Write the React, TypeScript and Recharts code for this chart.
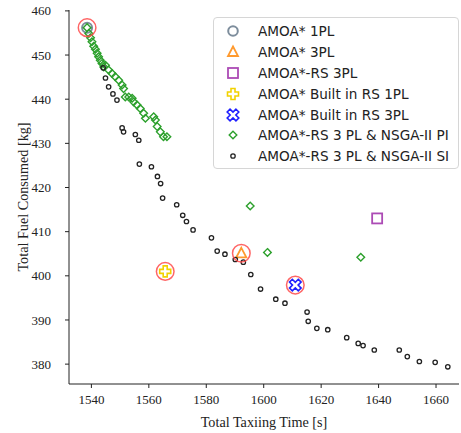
import React from "react";
import { ScatterChart, Scatter, XAxis, YAxis } from "recharts";

document.body.style.margin = "0";

// AMOA*-RS 3 PL & NSGA-II PI
const piTime = [
  1538.5, 1539.1, 1539.7, 1540.2, 1540.8, 1541.4, 1542.0, 1542.5, 1543.1, 1543.7, 1544.3,
  1544.9, 1546.0, 1547.2, 1548.3, 1549.5, 1550.7, 1551.2, 1551.8, 1553.0, 1554.2, 1554.7,
  1555.9, 1557.0, 1558.2, 1558.8, 1561.7, 1562.3, 1562.9, 1564.0, 1565.1, 1566.3,
  1595.3, 1601.3, 1633.8,
];
const piFuel = [
  456.2, 454.9, 453.9, 453.0, 452.0, 451.3, 450.4, 449.6, 448.8, 448.1, 447.3,
  447.7, 446.6, 445.8, 445.1, 444.3, 443.2, 442.4, 440.5, 440.5, 440.2, 439.4,
  438.7, 437.9, 436.8, 435.7, 436.0, 435.3, 433.8, 432.6, 431.5, 431.5,
  415.8, 405.3, 404.2,
];

// AMOA*-RS 3 PL & NSGA-II SI
const siTime = [
  1544.1, 1544.9, 1546.0, 1547.5, 1548.9, 1550.7, 1551.2, 1555.3, 1556.5, 1556.7,
  1560.9, 1563.0, 1564.1, 1564.8, 1569.7, 1571.8, 1573.1, 1575.4, 1581.8, 1583.8,
  1586.5, 1590.1, 1592.9, 1595.5, 1598.9, 1604.2, 1607.4, 1615.1, 1615.5, 1618.5,
  1622.3, 1628.9, 1632.9, 1634.6, 1638.5, 1647.2, 1650.0, 1654.2, 1659.7, 1664.1,
];
const siFuel = [
  447.1, 444.8, 442.8, 441.2, 439.8, 433.5, 432.6, 432.0, 430.7, 425.3,
  424.7, 422.5, 420.9, 417.6, 416.1, 413.7, 412.3, 410.4, 408.6, 405.6,
  404.9, 403.7, 403.1, 400.3, 397.0, 394.7, 393.8, 391.8, 389.7, 388.1,
  387.8, 386.0, 384.7, 384.2, 383.2, 383.2, 381.7, 380.6, 380.4, 379.4,
];

// single results
const amoa1pl = [{ x: 1538.5, y: 456.2 }];
const amoa3pl = [{ x: 1592.2, y: 405.1 }];
const amoaRs3pl = [{ x: 1639.5, y: 413.0 }];
const builtRs1pl = [{ x: 1565.7, y: 401.0 }];
const builtRs3pl = [{ x: 1611.0, y: 397.9 }];
const highlighted = [...amoa1pl, ...amoa3pl, ...builtRs1pl, ...builtRs3pl];

const xTicks = [1540, 1560, 1580, 1600, 1620, 1640, 1660];
const yTicks = [380, 390, 400, 410, 420, 430, 440, 450, 460];

const piData = piTime.map((x, i) => ({ x, y: piFuel[i] }));
const siData = siTime.map((x, i) => ({ x, y: siFuel[i] }));

const C = {
  grey: "#7d8d9c",
  orange: "#ff9a2e",
  purple: "#ac4bb5",
  yellow: "#f2d200",
  blue: "#1f1fff",
  green: "#2ca02c",
  black: "#222222",
  red: "#ff4a4a",
};

const plusPts = (cx: number, cy: number, s: number, t: number, rot = 0) => {
  const raw = [
    [-t, -s], [t, -s], [t, -t], [s, -t], [s, t], [t, t],
    [t, s], [-t, s], [-t, t], [-s, t], [-s, -t], [-t, -t],
  ];
  const c = Math.cos(rot);
  const sn = Math.sin(rot);
  return raw.map(([a, b]) => `${cx + a * c - b * sn},${cy + a * sn + b * c}`).join(" ");
};

const mark = (kind: string, cx: number, cy: number, small = false) => {
  switch (kind) {
    case "circle":
      return <circle cx={cx} cy={cy} r={small ? 4.8 : 5} fill="none" stroke={C.grey} strokeWidth={2} />;
    case "tri":
      return (
        <polygon
          points={`${cx},${cy - 5.5} ${cx + 5},${cy + 4} ${cx - 5},${cy + 4}`}
          fill="none" stroke={C.orange} strokeWidth={1.8}
        />
      );
    case "square":
      return <rect x={cx - 5} y={cy - 5} width={10} height={10} fill="none" stroke={C.purple} strokeWidth={1.8} />;
    case "plus":
      return <polygon points={plusPts(cx, cy, 5.5, 2)} fill="none" stroke={C.yellow} strokeWidth={1.6} />;
    case "x":
      return <polygon points={plusPts(cx, cy, 6.2, 2, Math.PI / 4)} fill="none" stroke={C.blue} strokeWidth={1.6} />;
    case "diamond":
      return (
        <path
          d={`M${cx},${cy - 3.8}L${cx + 3.8},${cy}L${cx},${cy + 3.8}L${cx - 3.8},${cy}Z`}
          fill="none" stroke={C.green} strokeWidth={1.4}
        />
      );
    case "dot":
      return <circle cx={cx} cy={cy} r={2.2} fill="none" stroke={C.black} strokeWidth={1.3} />;
    default:
      return (
        <circle cx={cx} cy={cy} r={8.8} fill="none" stroke={C.red} strokeOpacity={0.85} strokeWidth={1.5} />
      );
  }
};

const shapeOf = (kind: string) => (p: any) => mark(kind, p.cx, p.cy);

const legendItems = [
  { kind: "circle", label: "AMOA* 1PL" },
  { kind: "tri", label: "AMOA* 3PL" },
  { kind: "square", label: "AMOA*-RS 3PL" },
  { kind: "plus", label: "AMOA* Built in RS 1PL" },
  { kind: "x", label: "AMOA* Built in RS 3PL" },
  { kind: "diamond", label: "AMOA*-RS 3 PL & NSGA-II PI" },
  { kind: "dot", label: "AMOA*-RS 3 PL & NSGA-II SI" },
];

const serif = "'Liberation Serif', 'Times New Roman', serif";
const tickStyle = { fill: "#222", fontSize: 13, fontFamily: serif };
const labelStyle = { fill: "#222", fontSize: 14.2, fontFamily: serif };

export default function App() {
  return (
    <div style={{ position: "relative", width: 461, height: 433, background: "#fff" }}>
      <ScatterChart width={461} height={433} margin={{ top: 10, right: 2, left: 0, bottom: 0 }}>
        <XAxis
          dataKey="x"
          type="number"
          domain={[1532.2, 1668]}
          ticks={xTicks}
          allowDataOverflow
          height={49}
          tick={tickStyle}
          tickSize={4}
          tickMargin={7}
          stroke="#222"
          label={{
            value: "Total Taxiing Time [s]",
            position: "insideBottom",
            offset: 6,
            style: labelStyle,
          }}
        />
        <XAxis
          xAxisId="top"
          orientation="top"
          type="number"
          domain={[1532.2, 1668]}
          height={0}
          tick={false}
          tickLine={false}
          stroke="#222"
        />
        <YAxis
          dataKey="y"
          type="number"
          domain={[375.5, 460.2]}
          ticks={yTicks}
          allowDataOverflow
          width={69}
          tick={tickStyle}
          tickSize={4}
          tickMargin={14}
          stroke="#222"
          label={{
            value: "Total Fuel Consumed [kg]",
            angle: -90,
            position: "insideLeft",
            offset: 23,
            style: { ...labelStyle, textAnchor: "middle" },
          }}
        />
        <YAxis
          yAxisId="right"
          orientation="right"
          type="number"
          domain={[375.5, 460.2]}
          width={0}
          tick={false}
          tickLine={false}
          stroke="#222"
        />
        <Scatter data={amoa1pl} shape={shapeOf("circle")} isAnimationActive={false} />
        <Scatter data={amoa3pl} shape={shapeOf("tri")} isAnimationActive={false} />
        <Scatter data={amoaRs3pl} shape={shapeOf("square")} isAnimationActive={false} />
        <Scatter data={builtRs1pl} shape={shapeOf("plus")} isAnimationActive={false} />
        <Scatter data={builtRs3pl} shape={shapeOf("x")} isAnimationActive={false} />
        <Scatter data={piData} shape={shapeOf("diamond")} isAnimationActive={false} />
        <Scatter data={siData} shape={shapeOf("dot")} isAnimationActive={false} />
        <Scatter data={highlighted} shape={shapeOf("ring")} isAnimationActive={false} />
      </ScatterChart>
      <div
        style={{
          position: "absolute",
          left: 213,
          top: 17,
          width: 246,
          height: 152,
          boxSizing: "border-box",
          border: "1px solid #d6d6d6",
          borderRadius: 4,
          background: "rgba(255,255,255,0.85)",
          paddingTop: 3,
          fontFamily: "'DejaVu Sans', sans-serif",
          fontSize: 13.6,
          color: "#222",
        }}
      >
        {legendItems.map((it) => (
          <div key={it.label} style={{ display: "flex", alignItems: "center", height: 20.8 }}>
            <svg width={44} height={20} style={{ flex: "none" }}>
              {mark(it.kind, 19, 10, true)}
            </svg>
            <span style={{ whiteSpace: "nowrap" }}>{it.label}</span>
          </div>
        ))}
      </div>
    </div>
  );
}
